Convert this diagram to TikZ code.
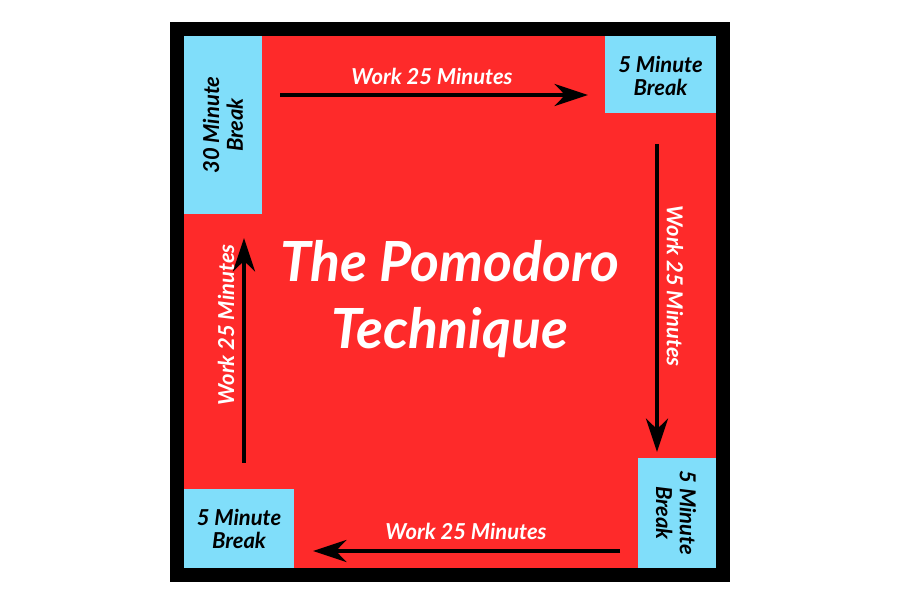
\documentclass[tikz,border=0pt]{standalone}
\usepackage{fontspec}
\setmainfont{Lato}
\usetikzlibrary{arrows.meta}
\definecolor{pomred}{RGB}{254,42,42}
\definecolor{pomblue}{RGB}{128,222,250}
\tikzset{
  workarrow/.style={line width=2.3pt, -{Stealth[length=19pt,width=12.5pt,inset=6pt]}},
  worklabel/.style={text=white, font=\fontsize{12.5}{14}\selectfont\bfseries\itshape},
  breaklabel/.style={text=black, align=center, font=\fontsize{12.5}{13.5}\selectfont\bfseries\itshape},
  titlelabel/.style={text=white, align=center, font=\fontsize{31.5}{38}\selectfont\bfseries\itshape}
}
\begin{document}
\begin{tikzpicture}[x=0.02cm,y=-0.02cm]
    \tikzstyle{every node}+=[inner sep=0pt]
    \useasboundingbox (0,0) rectangle (900,604);
    % frame and board
    \fill [black] (170,22) rectangle (730,582);
    \fill [pomred] (184,36) rectangle (716,568);
    % break boxes
    \fill [pomblue] (184,36) rectangle (262,214);
    \fill [pomblue] (605,36) rectangle (716,113);
    \fill [pomblue] (638,458) rectangle (716,568);
    \fill [pomblue] (184,489) rectangle (294,568);
    \node [breaklabel, rotate=90] (longbreak) at (223,125) {30 Minute\\Break};
    \node [breaklabel] (breakone) at (660.5,76) {5 Minute\\Break};
    \node [breaklabel, rotate=-90] (breaktwo) at (676,513) {5 Minute\\Break};
    \node [breaklabel] (breakthree) at (239,529) {5 Minute\\Break};
    % title
    \node [titlelabel] (title) at (450,299) {The Pomodoro\\Technique};
    % work arrows
    \coordinate (topstart) at (280,95);
    \coordinate (topend) at (588,95);
    \coordinate (rightstart) at (657,144);
    \coordinate (rightend) at (657,452);
    \coordinate (bottomstart) at (620,551);
    \coordinate (bottomend) at (313,551);
    \coordinate (leftstart) at (244,463);
    \coordinate (leftend) at (244,238);
    \draw [workarrow] (topstart) -- (topend);
    \draw [workarrow] (rightstart) -- (rightend);
    \draw [workarrow] (bottomstart) -- (bottomend);
    \draw [workarrow] (leftstart) -- (leftend);
    \node [worklabel] (worktop) at (432,76) {Work 25 Minutes};
    \node [worklabel, rotate=-90] (workright) at (675,286) {Work 25 Minutes};
    \node [worklabel] (workbottom) at (466,531) {Work 25 Minutes};
    \node [worklabel, rotate=90] (workleft) at (226,325) {Work 25 Minutes};
\end{tikzpicture}
\end{document}
